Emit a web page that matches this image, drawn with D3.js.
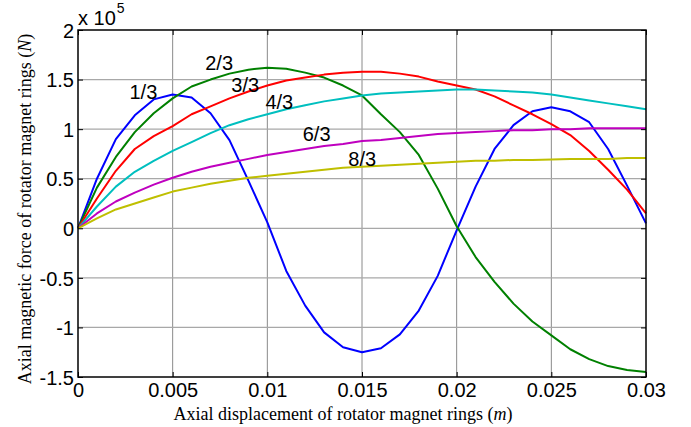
<!DOCTYPE html>
<html><head><meta charset="utf-8">
<script src="https://cdn.jsdelivr.net/npm/d3@7"></script>
<style>
html,body{margin:0;padding:0;background:#fff;}
svg{display:block;}
</style>
</head><body>
<svg id="chart" width="691" height="427"></svg>
<script>
// Data (force in units of 1e5 N)
const xValues = [0,0.001,0.002,0.003,0.004,0.005,0.006,0.007,0.008,0.009,0.010,0.011,0.012,0.013,0.014,0.015,0.016,0.017,0.018,0.019,0.020,0.021,0.022,0.023,0.024,0.025,0.026,0.027,0.028,0.029,0.030];
const s13 = [0,0.50,0.90,1.14,1.30,1.35,1.32,1.16,0.89,0.48,0.06,-0.43,-0.78,-1.05,-1.20,-1.25,-1.21,-1.07,-0.83,-0.48,-0.02,0.42,0.80,1.04,1.18,1.22,1.18,1.07,0.80,0.43,0.05];
const s23 = [0,0.41,0.72,0.97,1.16,1.31,1.43,1.50,1.56,1.60,1.62,1.61,1.57,1.52,1.44,1.34,1.15,0.97,0.74,0.40,0.02,-0.29,-0.54,-0.76,-0.94,-1.08,-1.22,-1.32,-1.39,-1.43,-1.45];
const s33 = [0,0.30,0.58,0.80,0.93,1.03,1.15,1.23,1.31,1.38,1.44,1.49,1.52,1.55,1.57,1.58,1.58,1.56,1.53,1.48,1.44,1.40,1.33,1.24,1.15,1.05,0.94,0.78,0.59,0.39,0.15];
const s43 = [0,0.22,0.42,0.57,0.68,0.78,0.87,0.96,1.04,1.10,1.15,1.20,1.24,1.28,1.31,1.34,1.36,1.37,1.38,1.39,1.40,1.40,1.39,1.38,1.37,1.35,1.32,1.29,1.26,1.23,1.20];
const s63 = [0,0.15,0.27,0.36,0.44,0.51,0.57,0.62,0.66,0.70,0.74,0.77,0.80,0.83,0.85,0.88,0.89,0.91,0.93,0.95,0.96,0.97,0.98,0.99,0.99,1.00,1.00,1.01,1.01,1.01,1.01];
const s83 = [0,0.10,0.19,0.25,0.31,0.37,0.41,0.45,0.48,0.51,0.53,0.55,0.57,0.59,0.61,0.62,0.63,0.64,0.65,0.66,0.67,0.68,0.68,0.69,0.69,0.695,0.70,0.70,0.70,0.71,0.71];
const seriesNames = ["1/3","2/3","3/3","4/3","6/3","8/3"];
const seriesColors = ["#0000ff","#008000","#ff0000","#00bfbf","#bf00bf","#bfbf00"];
const xTickValues = [0,0.005,0.01,0.015,0.02,0.025,0.03];
const xTickLabels = ["0","0.005","0.01","0.015","0.02","0.025","0.03"];
const yTickValues = [-1.5,-1,-0.5,0,0.5,1,1.5,2];
const yTickLabels = ["-1.5","-1","-0.5","0","0.5","1","1.5","2"];
// label anchor positions in data coordinates
const labelX = [0.00272,0.00672,0.00810,0.00990,0.01187,0.01428];
const labelY = [1.30,1.60,1.37,1.20,0.88,0.63];

const allSeries = [s13,s23,s33,s43,s63,s83];

const svg = d3.select("#chart");
const L=78, R=646, T=30, B=377;
const x = d3.scaleLinear().domain([0,0.03]).range([L,R]);
const y = d3.scaleLinear().domain([-1.5,2]).range([B,T]);
const sans = "'Liberation Sans', Arial, sans-serif";
const serif = "'Liberation Serif', 'Times New Roman', serif";

// grid
const g = svg.append("g");
g.selectAll("line.vg").data(xTickValues.slice(1,-1)).enter().append("line")
  .attr("x1",d=>x(d)).attr("x2",d=>x(d)).attr("y1",T).attr("y2",B)
  .attr("stroke","#8a8a8a").attr("stroke-width",1);
g.selectAll("line.hg").data(yTickValues.slice(1,-1)).enter().append("line")
  .attr("x1",L).attr("x2",R).attr("y1",d=>y(d)).attr("y2",d=>y(d))
  .attr("stroke","#a8a8a8").attr("stroke-width",1.3);

// lines
const line = d3.line().x((d,i)=>x(xValues[i])).y(d=>y(d));
allSeries.forEach((s,k)=>{
  svg.append("path").datum(s).attr("d",line).attr("fill","none")
    .attr("stroke",seriesColors[k]).attr("stroke-width",2).attr("stroke-linejoin","round");
});

// axes with inward ticks
const ax = d3.axisBottom(x).tickValues(xTickValues).tickFormat((d,i)=>xTickLabels[i]).tickSizeInner(-5).tickSizeOuter(0).tickPadding(12);
const axG = svg.append("g").attr("transform",`translate(0,${B})`).call(ax);
const axT = svg.append("g").attr("transform",`translate(0,${T})`).call(d3.axisTop(x).tickValues(xTickValues).tickFormat("").tickSizeInner(-5).tickSizeOuter(0));
const ay = d3.axisLeft(y).tickValues(yTickValues).tickFormat((d,i)=>yTickLabels[i]).tickSizeInner(-5).tickSizeOuter(0).tickPadding(10);
const ayG = svg.append("g").attr("transform",`translate(${L},0)`).call(ay);
const ayR = svg.append("g").attr("transform",`translate(${R},0)`).call(d3.axisRight(y).tickValues(yTickValues).tickFormat("").tickSizeInner(-5).tickSizeOuter(0));
[axG,axT,ayG,ayR].forEach(a=>{
  a.select(".domain").remove();
  a.selectAll(".tick line").attr("stroke","#000").attr("stroke-width",1);
  a.selectAll("text").attr("font-family",sans).attr("font-size",20).attr("fill","#000");
});
axG.selectAll("text").attr("dy","0.71em").attr("y",6);
ayG.selectAll("text").attr("x",-4).attr("dy","0.36em");

// box
svg.append("rect").attr("x",L).attr("y",T).attr("width",R-L).attr("height",B-T)
  .attr("fill","none").attr("stroke","#000").attr("stroke-width",1.5);

// series labels
svg.selectAll("text.lab").data(seriesNames).enter().append("text")
  .attr("x",(d,i)=>x(labelX[i])).attr("y",(d,i)=>y(labelY[i]))
  .attr("font-family",sans).attr("font-size",20).attr("fill","#000").text(d=>d);

// exponent
const ex = svg.append("text").attr("x",78).attr("y",25).attr("font-family",sans).attr("font-size",20).attr("fill","#000");
ex.append("tspan").text("x 10");
ex.append("tspan").attr("font-size",14).attr("dy",-12).attr("dx",1).text("5");

// axis titles
const xt = svg.append("text").attr("x",343).attr("y",420).attr("text-anchor","middle")
  .attr("font-family",serif).attr("font-size",18).attr("fill","#000");
xt.append("tspan").text("Axial displacement of rotator magnet rings (");
xt.append("tspan").attr("font-style","italic").text("m");
xt.append("tspan").text(")");
const yt = svg.append("text").attr("transform","translate(31,209) rotate(-90)").attr("text-anchor","middle")
  .attr("font-family",serif).attr("font-size",18).attr("fill","#000");
yt.append("tspan").text("Axial magnetic force of rotator magnet rings (");
yt.append("tspan").attr("font-style","italic").text("N");
yt.append("tspan").text(")");
</script>
</body></html>
